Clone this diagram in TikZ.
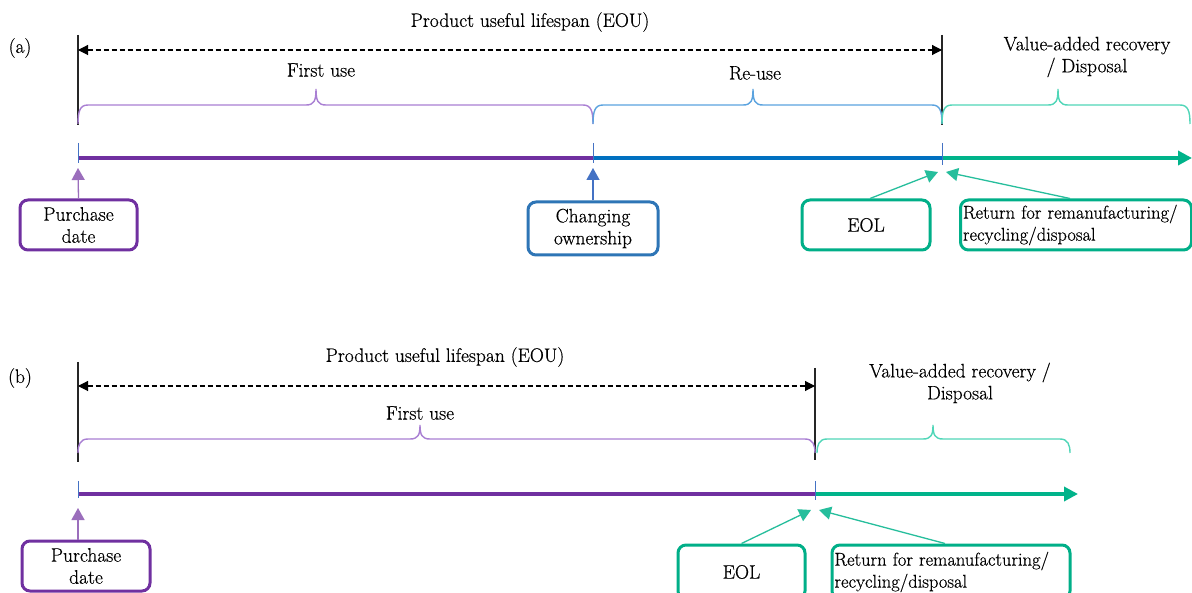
\documentclass[tikz,border=0pt]{standalone}
\usepackage{fontspec}
\setmainfont{Latin Modern Roman}[FakeBold=0.5]
\usetikzlibrary{arrows.meta,calc}
\definecolor{cpurple}{HTML}{7030A0}
\definecolor{cpurplel}{HTML}{A97FD3}
\definecolor{cblue}{HTML}{0070C0}
\definecolor{cbluebox}{HTML}{2E75B6}
\definecolor{cbluel}{HTML}{5BA3DF}
\definecolor{cbluearr}{HTML}{4472C4}
\definecolor{cteal}{HTML}{00B38A}
\definecolor{ctealb}{HTML}{00AF88}
\definecolor{cteall}{HTML}{50D6B8}
\definecolor{ctick}{HTML}{4472C4}
\newcommand\mybrace[7]{%
  \draw[#1,line width=1.4] (#2,#6) .. controls (#2,{#5+6}) and ({#2+2},#5) .. ({#2+10},#5)
    -- ({#3-10},#5) .. controls ({#3-2},#5) and (#3,{#5-4}) .. (#3,#7)
    .. controls (#3,{#5-4}) and ({#3+2},#5) .. ({#3+10},#5)
    -- ({#4-10},#5) .. controls ({#4-2},#5) and (#4,{#5+6}) .. (#4,#6);}
\tikzset{
  lbl/.style={font=\fontsize{19.5}{22}\selectfont, inner sep=0pt, align=center},
  box/.style={draw, rounded corners=8, line width=3, fill=white, font=\fontsize{19.5}{22}\selectfont, inner sep=2pt, align=center},
  retbox/.style={box, align=left, font=\fontsize{18.5}{22}\selectfont},
  tl/.style={line width=4.5},
  tick/.style={ctick, line width=1},
  vbar/.style={black!85, line width=1.4},
  span/.style={dash pattern=on 5 off 3, line width=1.1, {Triangle[length=10,width=10]}-{Triangle[length=10,width=10]}},
  conn/.style={line width=1.3, -{Triangle[length=12,width=13]}}
}
\begin{document}
\begin{tikzpicture}[x=1pt,y=-1pt]
\clip (0,0) rectangle (1192,593);
\fill[white] (0,0) rectangle (1192,593);

% ---------- panel (a) ----------
\node[lbl] (la) at (20,48) {(a)};
\coordinate (aL) at (78,35);
\coordinate (aLb) at (78,125);
\coordinate (aR) at (942,35);
\coordinate (aRb) at (942,125);
\draw[vbar] (aL) -- (aLb);
\draw[vbar] (aR) -- (aRb);
\coordinate (dA1) at (78,50);
\coordinate (dA2) at (942,50);
\draw[span] (dA1) -- (dA2);
\node[lbl] (eouA) at (530,22) {Product useful lifespan (EOU)};
\node[lbl] (fuA) at (321,70) {First use};
\node[lbl] (ruA) at (755,73) {Re-use};
\node[lbl] (varA) at (1087,57) {Value-added recovery\\/ Disposal};
\mybrace{cpurplel}{78}{316}{593}{105}{124}{89}
\mybrace{cbluel}{593}{753}{942}{105}{124}{89}
\mybrace{cteall}{942}{1058}{1190}{105}{124}{89}

\coordinate (ta0) at (78,158);
\coordinate (ta1) at (593,158);
\coordinate (ta2) at (942,158);
\coordinate (ta3) at (1192,158);
\draw[tl,cpurple] (ta0) -- (ta1);
\draw[tl,cblue] (ta1) -- (ta2);
\draw[tl,cteal,-{Triangle[length=14,width=14]}] (ta2) -- (ta3);
\draw[tick] (78,143) -- (78,163);
\draw[tick] (593,143) -- (593,163);
\draw[tick] (942,143) -- (942,165);

\node[box,draw=cpurple,minimum width=117,minimum height=50] (pdA) at (78.5,225) {Purchase\\date};
\node[box,draw=cbluebox,minimum width=130,minimum height=53] (coA) at (593,228.5) {Changing\\ownership};
\node[box,draw=ctealb,minimum width=128,minimum height=50] (eolA) at (866,225) {EOL};
\node[retbox,draw=ctealb,minimum width=231,minimum height=50,text width=226] (retA) at (1076,225) {Return for remanufacturing/\\recycling/disposal};
\coordinate (pA) at (78,168);
\coordinate (cA) at (593,168);
\coordinate (eA) at (938,172);
\coordinate (rA) at (946,172);
\draw[conn,cpurple!70] (pdA.north) -- (pA);
\draw[conn,cbluearr] (coA.north) -- (cA);
\draw[conn,cteal!85] ($(eolA.north)+(4,0)$) -- (eA);
\draw[conn,cteal!85] ($(retA.north)+(-6,0)$) -- (rA);

% ---------- panel (b) ----------
\node[lbl] (lb) at (20,378) {(b)};
\coordinate (bL) at (78,362);
\coordinate (bLb) at (78,462);
\coordinate (bR) at (815,368);
\coordinate (bRb) at (815,460);
\draw[vbar] (bL) -- (bLb);
\draw[vbar] (bR) -- (bRb);
\coordinate (dB1) at (78,386);
\coordinate (dB2) at (815,386);
\draw[span] (dB1) -- (dB2);
\node[lbl] (eouB) at (445,357) {Product useful lifespan (EOU)};
\node[lbl] (fuB) at (420,413) {First use};
\node[lbl] (varB) at (960,383) {Value-added recovery /\\Disposal};
\mybrace{cpurplel}{78}{420}{815}{439}{453}{425}
\mybrace{cteall}{817}{933}{1070}{439}{453}{425}

\coordinate (tb0) at (78,494);
\coordinate (tb1) at (815,494);
\coordinate (tb2) at (1078,494);
\draw[tl,cpurple] (tb0) -- (tb1);
\draw[tl,cteal,-{Triangle[length=14,width=14]}] (tb1) -- (tb2);
\draw[tick] (78,481) -- (78,498);
\draw[tick] (815,481) -- (815,500);

\node[box,draw=cpurple,minimum width=128,minimum height=50] (pdB) at (86,566) {Purchase\\date};
\node[box,draw=ctealb,minimum width=127,minimum height=54] (eolB) at (741.5,572) {EOL};
\node[retbox,draw=ctealb,minimum width=238,minimum height=54,text width=233] (retB) at (951,572) {Return for remanufacturing/\\recycling/disposal};
\coordinate (pB) at (78,508);
\coordinate (eB) at (811,510);
\coordinate (rB) at (819,510);
\draw[conn,cpurple!70] (pdB.north -| pB) -- (pB);
\draw[conn,cteal!85] (eolB.north) -- (eB);
\draw[conn,cteal!85] ($(retB.north)+(-6,0)$) -- (rB);
\end{tikzpicture}
\end{document}
